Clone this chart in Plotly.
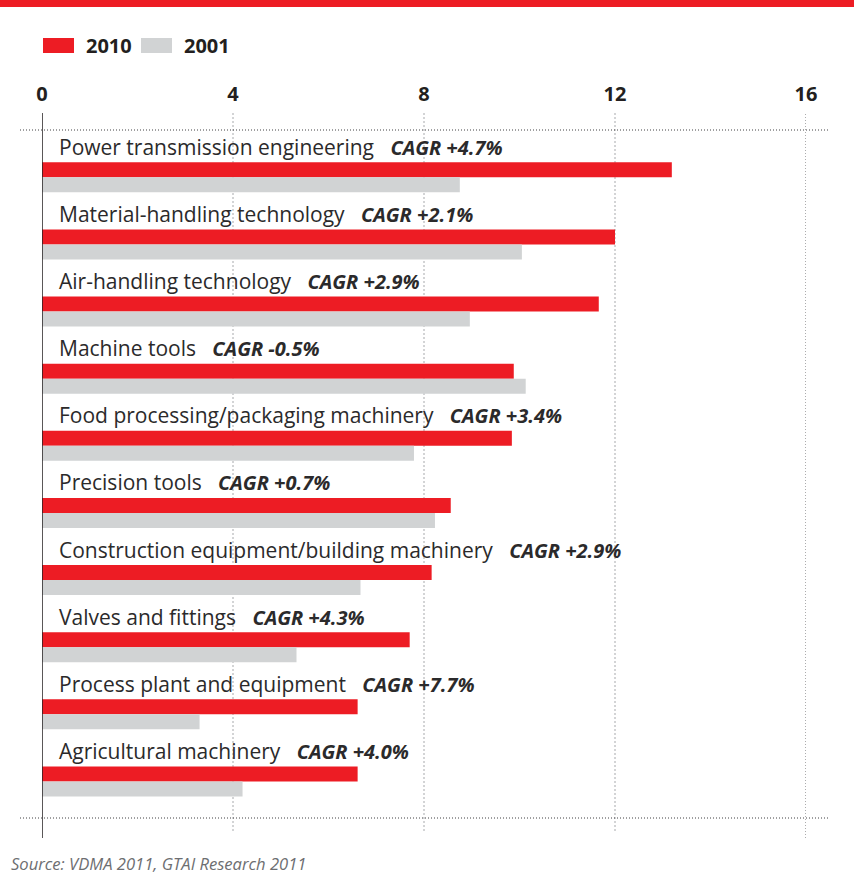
import plotly.graph_objects as go

# Machinery sectors, turnover in EUR bn (2010 vs 2001) with growth rates
categories = [
    "Power transmission engineering",
    "Material-handling technology",
    "Air-handling technology",
    "Machine tools",
    "Food processing/packaging machinery",
    "Precision tools",
    "Construction equipment/building machinery",
    "Valves and fittings",
    "Process plant and equipment",
    "Agricultural machinery",
]
values_2010 = [13.19, 12.00, 11.66, 9.88, 9.84, 8.56, 8.16, 7.70, 6.61, 6.61]
values_2001 = [8.75, 10.05, 8.96, 10.13, 7.79, 8.23, 6.67, 5.33, 3.30, 4.20]
cagr = ["+4.7%", "+2.1%", "+2.9%", "-0.5%", "+3.4%", "+0.7%", "+2.9%", "+4.3%", "+7.7%", "+4.0%"]
x_ticks = [0, 4, 8, 12, 16]
series_names = ["2010", "2001"]

RED = "#ed1c24"
GREY = "#d1d3d4"
INK = "#231f20"
FONT = "Open Sans"

W, H = 854, 876
ML, MR, MT, MB = 42, 48, 113, 38
PW, PH = W - ML - MR, H - MT - MB


def px(x):
    """Pixel column -> paper x."""
    return (x - ML) / PW


def py(y):
    """Pixel row -> paper y."""
    return (H - MB - y) / PH


idx = list(range(len(categories)))
bar_w = 0.2235

fig = go.Figure()
fig.add_trace(go.Bar(
    x=values_2010, y=idx, orientation="h", name=series_names[0],
    width=bar_w, offset=-bar_w, marker=dict(color=RED, line=dict(width=0)),
    showlegend=False,
))
fig.add_trace(go.Bar(
    x=values_2001, y=idx, orientation="h", name=series_names[1],
    width=bar_w, offset=0, marker=dict(color=GREY, line=dict(width=0)),
    showlegend=False,
))

shapes = []
# top red band
shapes.append(dict(type="rect", xref="paper", yref="paper",
                   x0=px(0), x1=px(W), y0=py(7), y1=py(0),
                   fillcolor=RED, line=dict(width=0), layer="above"))
# vertical grid lines
for t in x_ticks[1:-1]:
    shapes.append(dict(type="line", xref="x", yref="paper", x0=t, x1=t,
                       y0=py(831), y1=1, line=dict(color="#a7a9ac", width=1, dash="2px,2px"),
                       layer="below"))
shapes.append(dict(type="line", xref="x", yref="paper", x0=x_ticks[-1], x1=x_ticks[-1],
                   y0=py(838), y1=1, line=dict(color="#58595b", width=1, dash="1px,2px"),
                   layer="below"))
# horizontal dotted rules
for yy in (130, 818):
    shapes.append(dict(type="line", xref="paper", yref="paper", x0=px(20), x1=px(830),
                       y0=py(yy), y1=py(yy), line=dict(color="#414042", width=1, dash="1px,2px"),
                       layer="below"))
# baseline at zero
shapes.append(dict(type="line", xref="x", yref="paper", x0=0, x1=0, y0=0, y1=1,
                   line=dict(color=INK, width=1.5), layer="above"))

# legend swatches
shapes.append(dict(type="rect", xref="paper", yref="paper", x0=px(43), x1=px(74),
                   y0=py(53), y1=py(38), fillcolor=RED, line=dict(width=0)))
shapes.append(dict(type="rect", xref="paper", yref="paper", x0=px(141), x1=px(172),
                   y0=py(53), y1=py(38), fillcolor=GREY, line=dict(width=0)))

annotations = []
for name, xpos in zip(series_names, (84, 182)):
    annotations.append(dict(xref="paper", yref="paper", x=px(xpos), y=py(46),
                            xanchor="left", yanchor="middle", showarrow=False,
                            text=f"<b>{name}</b>", font=dict(family=FONT, size=20, color=INK)))

for i, (cat, g) in zip(idx, zip(categories, cagr)):
    annotations.append(dict(
        xref="x", yref="y", x=0, y=i - 0.455, xanchor="left", yanchor="middle",
        xshift=15, showarrow=False,
        text=(f"{cat}\u00a0\u00a0\u00a0"
              f"<span style='font-size:20px'><b><i>CAGR {g}</i></b></span>"),
        font=dict(family=FONT, size=21, color="#2b2a2b"),
    ))

annotations.append(dict(xref="paper", yref="paper", x=px(9), y=py(864),
                        xanchor="left", yanchor="middle", showarrow=False,
                        text="<i>Source: VDMA 2011, GTAI Research 2011</i>",
                        font=dict(family=FONT, size=16.6, color="#6d6e71")))

fig.update_layout(
    width=W, height=H,
    margin=dict(l=ML, r=MR, t=MT, b=MB, pad=0),
    paper_bgcolor="white", plot_bgcolor="white",
    barmode="overlay",
    showlegend=False,
    shapes=shapes,
    annotations=annotations,
    xaxis=dict(
        range=[0, 16], side="top", tickvals=x_ticks,
        ticktext=[f"<b>{t}</b>" for t in x_ticks],
        tickfont=dict(family=FONT, size=20, color=INK),
        showgrid=False, zeroline=False, showline=False, ticks="",
        ticklabelstandoff=7, fixedrange=True,
    ),
    yaxis=dict(
        range=[9.842, -0.959], showticklabels=False, showgrid=False,
        zeroline=False, showline=False, ticks="", fixedrange=True,
    ),
)

fig.write_html("out.html")
